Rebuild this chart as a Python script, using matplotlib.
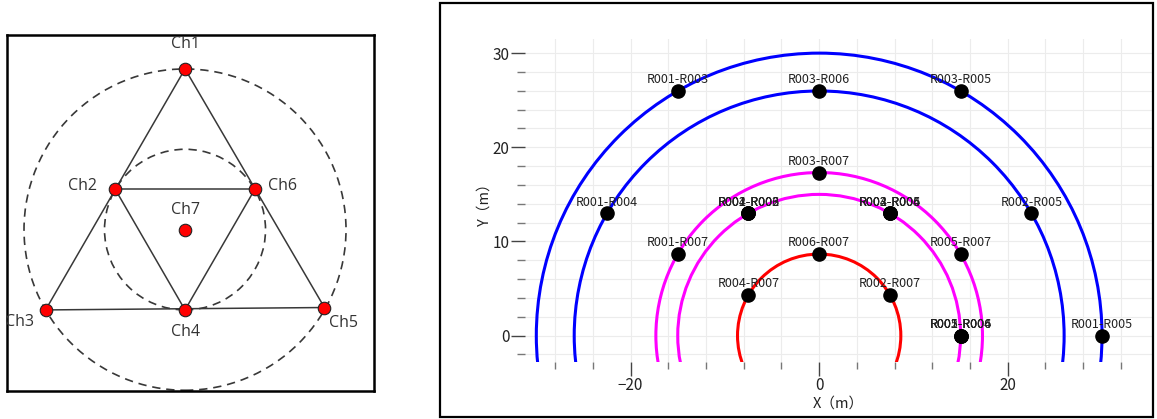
import matplotlib
matplotlib.use("Agg")
import matplotlib.pyplot as plt
from matplotlib.patches import Circle, Rectangle
from matplotlib.ticker import MultipleLocator

W, H = 1157, 419
JP = ["Noto Sans CJK JP", "DejaVu Sans"]

# ── Left panel: array layout (m) ──────────────────────────────────────────────
ch_names = ["Ch1", "Ch2", "Ch3", "Ch4", "Ch5", "Ch6", "Ch7"]
ch_x = [0.0, -7.5, -15.0, 0.0, 15.0, 7.5, 0.0]
ch_y = [17.32, 4.33, -8.66, -8.66, -8.4, 4.33, 0.0]
edges = [("Ch1", "Ch3"), ("Ch1", "Ch5"), ("Ch3", "Ch5"),
         ("Ch2", "Ch6"), ("Ch6", "Ch4"), ("Ch4", "Ch2")]
ring_radii = [17.32, 8.66]

# ── Right panel: station-pair vectors (m) ─────────────────────────────────────
pair_labels = ["R001-R002", "R001-R003", "R001-R004", "R001-R005", "R001-R006",
               "R001-R007", "R002-R003", "R002-R004", "R002-R005", "R002-R006",
               "R002-R007", "R003-R004", "R003-R005", "R003-R006", "R003-R007",
               "R004-R005", "R004-R006", "R004-R007", "R005-R006", "R005-R007",
               "R006-R007"]
pair_x = [-7.5, -15.0, -22.5, 30.0, 15.0, -15.0, -7.5, 15.0, 22.5, 7.5,
          7.5, 7.5, 15.0, 0.0, 0.0, 7.5, -7.5, -7.5, 15.0, 15.0, 0.0]
pair_y = [12.99, 25.98, 12.99, 0.0, 0.0, 8.66, 12.99, 0.0, 12.99, 12.99,
          4.33, 12.99, 25.98, 25.98, 17.32, 12.99, 12.99, 4.33, 0.0, 8.66, 8.66]
arc_radii = [30.0, 25.98, 17.32, 15.0, 8.66]
arc_colors = ["#0000ff", "#0000ff", "#ff00ff", "#ff00ff", "#ff0000"]

# label offsets in pixels for the left panel
ch_offsets = {"Ch1": (0, 25), "Ch2": (-33, 3), "Ch3": (-26, -12), "Ch4": (0, -22),
              "Ch5": (19, -15), "Ch6": (28, 3), "Ch7": (0, 20)}

fig = plt.figure(figsize=(W / 100, H / 100), dpi=100)

# ── Left panel ────────────────────────────────────────────────────────────────
ax1 = fig.add_axes([7 / W, (H - 391) / H, 367 / W, 356 / H])
ax1.set_xlim(-19.15, 20.33)
ax1.set_ylim(-17.4, 20.98)
ax1.set_xticks([])
ax1.set_yticks([])
for s in ax1.spines.values():
    s.set_linewidth(1.8)
    s.set_color("black")

LINE = "#383838"
for r in ring_radii:
    ax1.add_patch(Circle((0, 0), r, fill=False, ec=LINE, lw=1.2,
                         ls=(0, (5, 3.5)), zorder=2))
pos = {n: (x, y) for n, x, y in zip(ch_names, ch_x, ch_y)}
for a, b in edges:
    ax1.plot([pos[a][0], pos[b][0]], [pos[a][1], pos[b][1]],
             color=LINE, lw=1.1, zorder=3)
ax1.plot(ch_x, ch_y, "o", ls="none", ms=9, mfc="#ff0000", mec="#222222",
         mew=0.8, zorder=5)
for n, x, y in zip(ch_names, ch_x, ch_y):
    ax1.annotate(n, (x, y), xytext=ch_offsets[n], textcoords="offset pixels",
                 ha="center", va="center", fontsize=11.5, color="#333333",
                 family=["Open Sans", "DejaVu Sans"])

# ── Right panel ───────────────────────────────────────────────────────────────
fig.add_artist(Rectangle((440 / W, (H - 417) / H), 713 / W, 414 / H,
                         transform=fig.transFigure, fill=False,
                         lw=1.6, ec="black"))

ax2 = fig.add_axes([525 / W, (H - 362) / H, 627 / W, 323 / H])
ax2.set_xlim(-31.2, 35.3)
ax2.set_ylim(-2.8, 31.5)
for s in ax2.spines.values():
    s.set_visible(False)

for r, c in zip(arc_radii, arc_colors):
    ax2.add_patch(Circle((0, 0), r, fill=False, ec=c, lw=2.2, zorder=3))
ax2.scatter(pair_x, pair_y, s=90, c="black", zorder=4)
for lab, x, y in zip(pair_labels, pair_x, pair_y):
    ax2.annotate(lab, (x, y), xytext=(0, 5.5), textcoords="offset points",
                 ha="center", va="baseline", fontsize=9, color="#222222",
                 family=JP, zorder=5)

ax2.xaxis.set_major_locator(MultipleLocator(20))
ax2.xaxis.set_minor_locator(MultipleLocator(4))
ax2.yaxis.set_major_locator(MultipleLocator(10))
ax2.yaxis.set_minor_locator(MultipleLocator(2))
ax2.grid(which="both", color="#ececec", lw=0.8)
ax2.set_axisbelow(True)
ax2.tick_params(which="major", length=10, width=1, color="#444444", pad=1,
                labelsize=11, labelcolor="#222222")
ax2.tick_params(axis="x", which="minor", length=5, width=1, color="#777777")
ax2.tick_params(axis="y", which="minor", length=6, width=1, color="#777777")
for t in ax2.get_xticklabels() + ax2.get_yticklabels():
    t.set_family(JP)
ax2.set_xlabel("X（m）", family=JP, fontsize=10.5, color="#222222", labelpad=2)
ax2.set_ylabel("Y（m）", family=JP, fontsize=10.5, color="#222222", labelpad=1)

fig.savefig("out.png", dpi=100)
